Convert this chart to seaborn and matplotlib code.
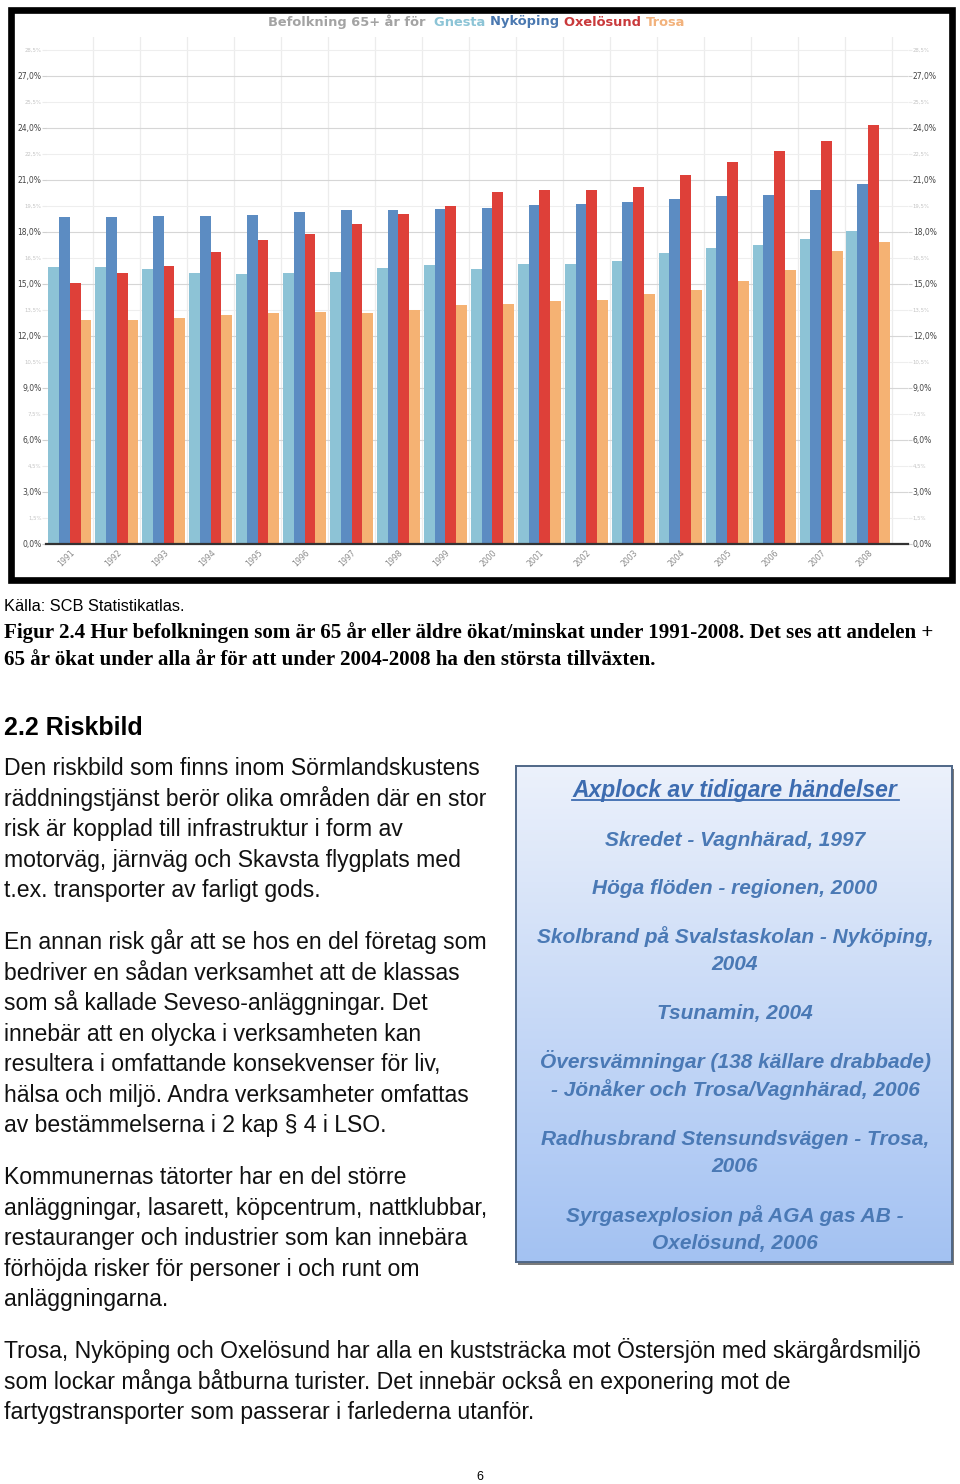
import numpy as np
import pandas as pd
import matplotlib
matplotlib.use("Agg")
import matplotlib.pyplot as plt
import matplotlib.patches as mpatches
import seaborn as sns

# ---------------- data ----------------
years = [str(y) for y in range(1991, 2009)]
gnesta = [16.0, 16.0, 15.85, 15.65, 15.6, 15.65, 15.7, 15.95, 16.1, 15.85,
          16.15, 16.15, 16.35, 16.8, 17.05, 17.25, 17.6, 18.05]
nykoping = [18.85, 18.85, 18.9, 18.9, 19.0, 19.15, 19.25, 19.25, 19.3, 19.4,
            19.55, 19.6, 19.75, 19.9, 20.05, 20.15, 20.4, 20.75]
oxelosund = [15.05, 15.65, 16.05, 16.85, 17.55, 17.9, 18.45, 19.05, 19.5, 20.3,
             20.4, 20.4, 20.6, 21.3, 22.05, 22.65, 23.25, 24.15]
trosa = [12.9, 12.9, 13.05, 13.2, 13.3, 13.4, 13.3, 13.5, 13.8, 13.85,
         14.0, 14.1, 14.4, 14.65, 15.2, 15.8, 16.9, 17.4]
municipalities = ["Gnesta", "Nyköping", "Oxelösund", "Trosa"]
bar_colors = ["#8dc3d6", "#5c8cc2", "#de4039", "#f5b273"]
title_colors = ["#8cc4d6", "#4a78b0", "#c9393b", "#f2b27c"]
major_ticks = [0, 3, 6, 9, 12, 15, 18, 21, 24, 27]
minor_ticks = [1.5, 4.5, 7.5, 10.5, 13.5, 16.5, 19.5, 22.5, 25.5, 28.5]

df = pd.DataFrame({
    "year": years * 4,
    "municipality": sum([[m] * len(years) for m in municipalities], []),
    "value": gnesta + nykoping + oxelosund + trosa,
})

W, H = 960, 1484
fig = plt.figure(figsize=(W / 100, H / 100), dpi=100)
fig.patch.set_facecolor("white")


def fx(px):
    return px / W


def fy(py):
    return 1 - py / H


# ---------------- chart ----------------
ax = fig.add_axes([fx(46.3), fy(544), 861.7 / W, 507 / H])
sns.barplot(data=df, x="year", y="value", hue="municipality", order=years,
            hue_order=municipalities, palette=bar_colors, saturation=1,
            width=0.92, errorbar=None, linewidth=0, ax=ax, legend=False,
            zorder=3)
ax.set_xlim(-0.5, 17.85)
ax.set_ylim(0, 29.25)
ax.set_xlabel("")
ax.set_ylabel("")
ax.set_facecolor("white")
for s in ["top", "left", "right"]:
    ax.spines[s].set_visible(False)
ax.spines["bottom"].set_color("#333333")
ax.spines["bottom"].set_linewidth(1.6)
ax.spines["bottom"].set_zorder(5)

ax.set_yticks(major_ticks)
ax.set_yticklabels([f"{v:.1f}".replace(".", ",") + "%" for v in major_ticks])
ax.set_yticks(minor_ticks, minor=True)
ax.set_yticklabels([f"{v:.1f}".replace(".", ",") + "%" for v in minor_ticks],
                   minor=True)
ax.tick_params(axis="y", which="major", labelsize=5.5, labelcolor="#444444",
               color="#cfcfcf", length=3, width=0.8, right=True, labelright=True,
               pad=0.5)
ax.tick_params(axis="y", which="minor", labelsize=3.9, labelcolor="#c4c4c4",
               color="#ececec", length=3, width=0.8, right=True, labelright=True,
               pad=0.5)
ax.grid(axis="y", which="major", color="#d6d6d6", lw=0.8, zorder=0)
ax.grid(axis="y", which="minor", color="#eeeeee", lw=0.8, zorder=0)
ax.grid(axis="x", visible=False)
for i in range(18):
    ax.axvline(i + 0.5, color="#ececec", lw=0.9, zorder=0)
ax.tick_params(axis="x", length=0, labelsize=5.6, labelcolor="#8a8a8a", pad=3)
plt.setp(ax.get_xticklabels(), rotation=45, ha="right",
         rotation_mode="anchor")

# frame around chart
fig.add_artist(mpatches.Rectangle((fx(11), fy(579.5)), (951.5 - 11) / W,
                                  (579.5 - 9.5) / H, transform=fig.transFigure,
                                  fill=False, edgecolor="black", lw=4.8))

# multi-coloured title
renderer = fig.canvas.get_renderer()
pieces = [("Befolkning 65+ år för  ", "#a3a3a3")] + [
    (m + (" " if i < 3 else ""), c) for i, (m, c) in
    enumerate(zip(municipalities, title_colors))]
x0 = 268
for txt, col in pieces:
    t = fig.text(fx(x0), fy(22), txt, color=col, fontsize=9.4,
                 fontweight="bold", family="DejaVu Sans", va="center",
                 ha="left")
    bb = t.get_window_extent(renderer)
    x0 += bb.width

# ---------------- page text ----------------
sans = "Liberation Sans"
serif = "Liberation Serif"
fig.text(fx(4), fy(611), "Källa: SCB Statistikatlas.", family=sans,
         fontsize=11.8, va="baseline")
fig.text(fx(4), fy(638),
         "Figur 2.4 Hur befolkningen som är 65 år eller äldre ökat/minskat under 1991-2008. Det ses att andelen +",
         family=serif, fontweight="bold", fontsize=15.1, va="baseline")
fig.text(fx(4), fy(665),
         "65 år ökat under alla år för att under 2004-2008 ha den största tillväxten.",
         family=serif, fontweight="bold", fontsize=15.1, va="baseline")
fig.text(fx(4), fy(735), "2.2 Riskbild", family=sans, fontweight="bold",
         fontsize=18, va="baseline")

body_size = 16.6
para1 = ["Den riskbild som finns inom Sörmlandskustens",
         "räddningstjänst berör olika områden där en stor",
         "risk är kopplad till infrastruktur i form av",
         "motorväg, järnväg och Skavsta flygplats med",
         "t.ex. transporter av farligt gods."]
para2 = ["En annan risk går att se hos en del företag som",
         "bedriver en sådan verksamhet att de klassas",
         "som så kallade Seveso-anläggningar. Det",
         "innebär att en olycka i verksamheten kan",
         "resultera i omfattande konsekvenser för liv,",
         "hälsa och miljö. Andra verksamheter omfattas",
         "av bestämmelserna i 2 kap § 4 i LSO."]
para3 = ["Kommunernas tätorter har en del större",
         "anläggningar, lasarett, köpcentrum, nattklubbar,",
         "restauranger och industrier som kan innebära",
         "förhöjda risker för personer i och runt om",
         "anläggningarna."]
para4 = ["Trosa, Nyköping och Oxelösund har alla en kuststräcka mot Östersjön med skärgårdsmiljö",
         "som lockar många båtburna turister. Det innebär också en exponering mot de",
         "fartygstransporter som passerar i farlederna utanför."]
for lines, start in [(para1, 775), (para2, 949), (para3, 1184), (para4, 1358)]:
    for k, line in enumerate(lines):
        fig.text(fx(4), fy(start + k * 30.55), line, family=sans,
                 fontsize=body_size, va="baseline", color="#111111")

fig.text(fx(480), fy(1480), "6", family=sans, fontsize=9, ha="center",
         va="baseline")

# ---------------- info box ----------------
bx0, bx1, by0, by1 = 516, 952, 766, 1262
# shadow
fig.add_artist(mpatches.Rectangle((fx(bx0 + 2), fy(by1 + 3)), (bx1 - bx0) / W,
                                  (by1 - by0) / H, transform=fig.transFigure,
                                  facecolor="#7a7a7a", edgecolor="none",
                                  zorder=1))
axb = fig.add_axes([fx(bx0), fy(by1), (bx1 - bx0) / W, (by1 - by0) / H],
                   zorder=2)
top_col = np.array([0.925, 0.945, 0.985])
bot_col = np.array([0.64, 0.76, 0.95])
tt = np.linspace(0, 1, 256)[:, None, None]
grad = top_col * (1 - tt) + bot_col * tt
grad = np.repeat(grad, 2, axis=1)
axb.imshow(grad, aspect="auto", extent=[0, 1, 0, 1], origin="upper")
axb.set_xlim(0, 1)
axb.set_ylim(0, 1)
axb.set_xticks([])
axb.set_yticks([])
for s in axb.spines.values():
    s.set_color("#4f6787")
    s.set_linewidth(1.4)

box_col = "#4a79b5"
cx = fx(735)
fig.text(cx, fy(797), "Axplock av tidigare händelser", family=sans,
         fontweight="bold", style="italic", fontsize=16.5, color="#3d6cb0",
         ha="center", va="baseline", zorder=5)
# underline
fig.add_artist(plt.Line2D([fx(572), fx(899)], [fy(800), fy(800)],
                          color="#3d6cb0", lw=1.3, zorder=5))
box_lines = [("Skredet - Vagnhärad, 1997", 846),
             ("Höga flöden - regionen, 2000", 894),
             ("Skolbrand på Svalstaskolan - Nyköping,", 943),
             ("2004", 970),
             ("Tsunamin, 2004", 1019),
             ("Översvämningar (138 källare drabbade)", 1068),
             ("- Jönåker och Trosa/Vagnhärad, 2006", 1096),
             ("Radhusbrand Stensundsvägen - Trosa,", 1145),
             ("2006", 1172),
             ("Syrgasexplosion på AGA gas AB -", 1222),
             ("Oxelösund, 2006", 1249)]
for txt, yb in box_lines:
    fig.text(cx, fy(yb), txt, family=sans, fontweight="bold", style="italic",
             fontsize=15, color=box_col, ha="center", va="baseline",
             zorder=5)

fig.savefig("out.png", dpi=100)
